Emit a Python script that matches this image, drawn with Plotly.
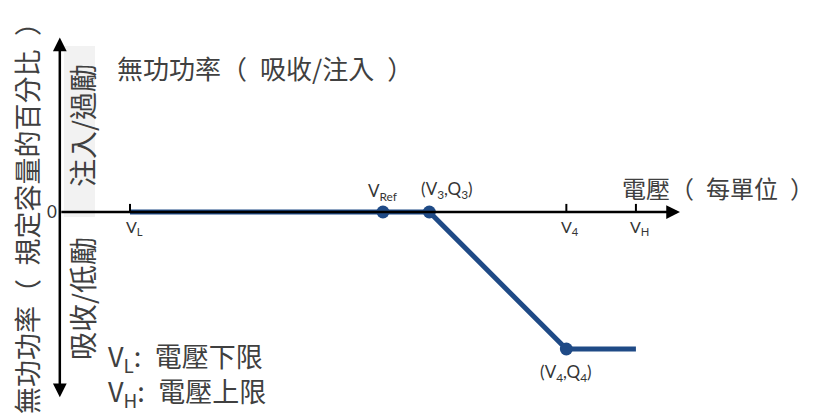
"""
Volt-var curve sketch: reactive power (% of rated capacity) vs voltage (pu).
Flat at Q=0 from V_L through V_Ref to (V3,Q3), ramps down to (V4,Q4),
then holds until V_H.
"""
import plotly.graph_objects as go

# Curve points (voltage in pu, reactive power in % of rating)
VOLT = [0.88, 1.00, 1.022, 1.087, 1.12]
QPCT = [0, 0, 0, -44, -44]
MARKED = [1, 2, 3]                 # indices with a dot: V_Ref, (V3,Q3), (V4,Q4)
TICK_V = [0.88, 1.087, 1.12]       # ticks on voltage axis
TICK_LABELS = ['V<sub>L</sub>', 'V<sub>4</sub>', 'V<sub>H</sub>']
POINT_LABELS = {1: 'V<sub>Ref</sub>', 2: '(V<sub>3</sub>,Q<sub>3</sub>)', 3: '(V<sub>4</sub>,Q<sub>4</sub>)'}

# page body keeps its default 8px margin, so the figure is sized to the rest of the window
PAD = 8
W, H = 816 - PAD, 418 - PAD
X_RANGE = [0.82212, 1.20543]
Y_RANGE = [-66.15, 65.51]
AXIS_V = [0.8467, 1.1409]
AXIS_Q = [-60.0, 56.0]
LINE_BLUE = '#1F4A86'
TXT = '#404040'
LBL = '#353535'
CJK = 'Noto Sans CJK TC, Noto Sans CJK SC, sans-serif'
LAT = 'Lato, Open Sans, sans-serif'
EN = '\u2002'


def paper(px, py):
    """window pixel -> paper coords"""
    return (px - PAD) / W, 1 - (py - PAD) / H


def note(px, py, text, size, angle=0, anchor='center', color=TXT, family=CJK):
    x, y = paper(px, py)
    fig.add_annotation(x=x, y=y, xref='paper', yref='paper', xanchor=anchor, yanchor='middle',
                       textangle=angle, text=text, showarrow=False, align='left',
                       font=dict(family=family, size=size, color=color))


fig = go.Figure()

# curve
fig.add_trace(go.Scatter(
    x=VOLT, y=QPCT, mode='lines',
    line=dict(color=LINE_BLUE, width=5), hoverinfo='skip'
))
fig.add_trace(go.Scatter(
    x=[VOLT[i] for i in MARKED], y=[QPCT[i] for i in MARKED], mode='markers',
    marker=dict(size=13, color=LINE_BLUE), hoverinfo='skip'
))

# light box behind the upper quadrant label
x0, y1 = paper(64, 46)
x1, y0 = paper(95, 217)
fig.add_shape(type='rect', xref='paper', yref='paper', x0=x0, x1=x1, y0=y0, y1=y1,
              fillcolor='#F2F2F2', line_width=0, layer='below')

# axes as arrows (voltage axis, then reactive power axis with two heads)
fig.add_annotation(x=AXIS_V[1], y=0, ax=AXIS_V[0], ay=0, xref='x', yref='y', axref='x', ayref='y',
                   showarrow=True, arrowhead=2, arrowsize=1.1, arrowwidth=2.5,
                   arrowcolor='black', text='', standoff=0)
fig.add_annotation(x=AXIS_V[0], y=AXIS_Q[1], ax=AXIS_V[0], ay=AXIS_Q[0], xref='x', yref='y', axref='x', ayref='y',
                   showarrow=True, arrowhead=2, arrowsize=1.1, arrowwidth=2.5, arrowside='end+start',
                   arrowcolor='black', text='', standoff=0)

# small ticks above the voltage axis, labels below
for v, lab in zip(TICK_V, TICK_LABELS):
    fig.add_shape(type='line', xref='x', yref='y', x0=v, x1=v, y0=0, y1=2.6,
                  line=dict(color='black', width=2))
    fig.add_annotation(x=v, y=0, xref='x', yref='y', text=lab, showarrow=False,
                       xshift=4, yshift=-15, font=dict(family=LAT, size=16, color=LBL))

# point labels
shifts = {1: (0, 20), 2: (18, 22), 3: (0, -24)}
for i, lab in POINT_LABELS.items():
    dx, dy = shifts[i]
    fig.add_annotation(x=VOLT[i], y=QPCT[i], xref='x', yref='y', text=lab, showarrow=False,
                       xshift=dx, yshift=dy, font=dict(family=LAT, size=17, color=LBL))

# "0" on the reactive power axis
note(52, 211, '0', 17, color=LBL, family=LAT)

# headings
note(115, 67, f'無功功率（{EN}吸收/注入{EN}）', 26, anchor='left')
note(620, 188, f'電壓（{EN}每單位{EN}）', 24, anchor='left')

# rotated axis title and quadrant labels
note(26, 212, f'無功功率（{EN}規定容量的百分比{EN}）', 27, angle=-90)
note(82, 126, '注入/過勵', 28, angle=-90)
note(82, 299, '吸收/低勵', 28, angle=-90)

# notes on the limits
note(106, 374, f'V<sub>L</sub>:{EN}電壓下限<br>V<sub>H</sub>:{EN}電壓上限', 27, anchor='left')

fig.update_xaxes(range=X_RANGE, visible=False, fixedrange=True)
fig.update_yaxes(range=Y_RANGE, visible=False, fixedrange=True)
fig.update_layout(
    width=W, height=H,
    margin=dict(l=0, r=0, t=0, b=0),
    paper_bgcolor='white', plot_bgcolor='white',
    showlegend=False,
)

fig.write_html("out.html")
